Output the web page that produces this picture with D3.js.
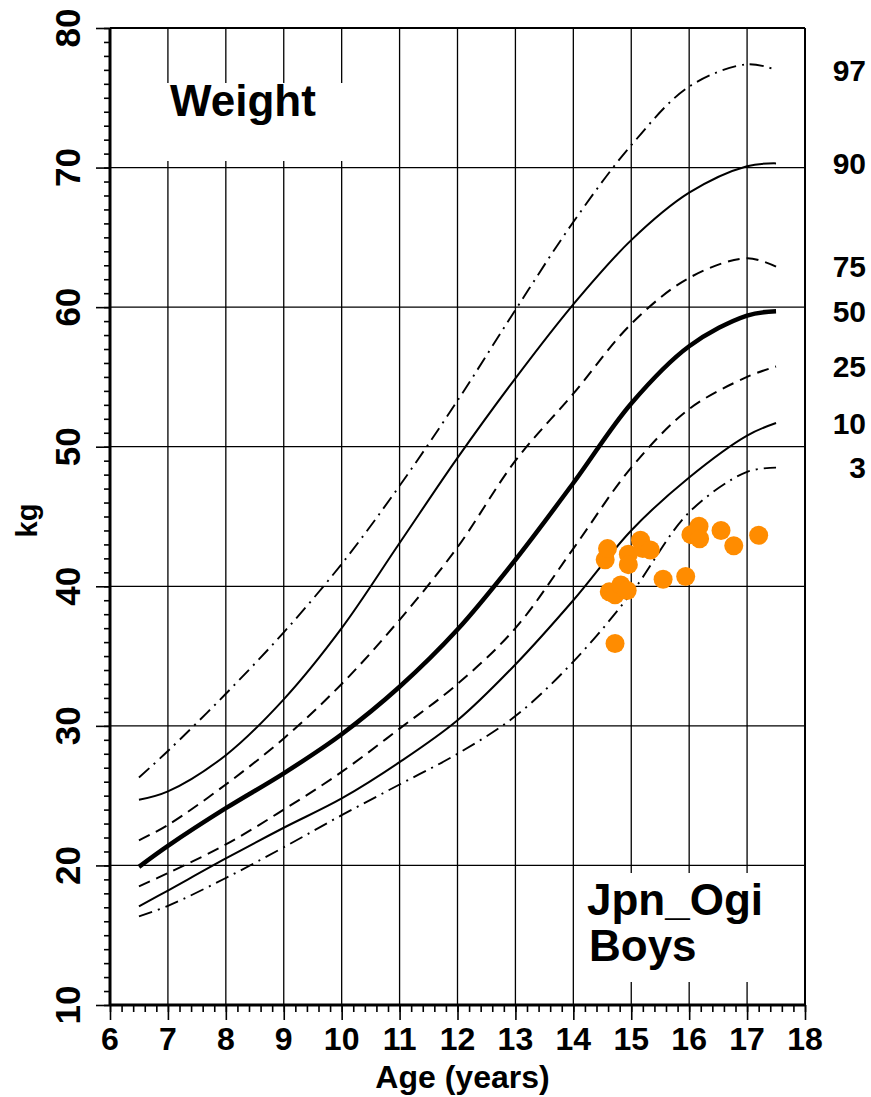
<!DOCTYPE html>
<html>
<head>
<meta charset="utf-8">
<script src="https://cdn.jsdelivr.net/npm/d3@7"></script>
<style>
  body { margin: 0; background: #fff; }
  text { font-family: "Liberation Sans", Arial, Helvetica, sans-serif; font-weight: bold; }
</style>
</head>
<body>
<svg id="chart" width="871" height="1097"></svg>
<script>
// reference curves (age in years, weight in kg)
const ages = [6.5, 7, 8, 9, 10, 11, 12, 13, 14, 15, 16, 17, 17.5];
const p97 = [26.3, 28.2, 32.3, 36.7, 41.6, 47.2, 53.3, 59.8, 66.1, 71.6, 75.8, 77.4, 77.0];
const p90 = [24.7, 25.3, 27.9, 31.9, 37.0, 43.1, 49.2, 54.9, 60.2, 64.8, 68.2, 70.1, 70.3];
const p75 = [21.8, 22.9, 25.8, 29.1, 33.0, 37.6, 42.8, 49.0, 53.8, 58.8, 62.1, 63.5, 62.9];
const p50 = [19.9, 21.4, 24.1, 26.6, 29.4, 32.8, 36.9, 41.9, 47.4, 53.1, 57.2, 59.4, 59.7];
const p25 = [18.5, 19.45, 21.5, 24.0, 26.7, 29.8, 33.0, 37.0, 42.7, 48.5, 52.7, 55.0, 55.75];
const p10 = [17.06, 18.2, 20.5, 22.7, 24.8, 27.4, 30.4, 34.4, 39.0, 44.0, 47.8, 50.8, 51.7];
const p3 = [16.35, 17.1, 19.1, 21.3, 23.6, 25.8, 28.0, 30.7, 34.6, 39.5, 45.3, 48.2, 48.5];

const centiles = ['97', '90', '75', '50', '25', '10', '3'];

// measured children
const obsAge = [14.55, 14.59, 14.62, 14.72, 14.82, 14.93, 14.72, 14.95, 14.95, 15.16,
                15.2, 15.33, 15.55, 15.94, 16.03, 16.17, 16.18, 16.55, 16.77, 17.2];
const obsKg = [41.9, 42.7, 39.6, 39.4, 40.1, 39.7, 35.9, 42.3, 41.55, 43.3,
               42.7, 42.6, 40.5, 40.7, 43.7, 44.3, 43.4, 44.0, 42.9, 43.65];

const xTicks = d3.range(6, 19, 1);
const yTicks = d3.range(10, 90, 10);

const svg = d3.select('#chart');
const pLeft = 110, pRight = 805, pTop = 28, pBottom = 1005;

const x = d3.scaleLinear().domain([6, 18]).range([pLeft, pRight]);
const y = d3.scaleLinear().domain([10, 80]).range([pBottom, pTop]);

// grid
const grid = svg.append('g').attr('stroke', '#000').attr('stroke-width', 1.3);
grid.selectAll('.vg').data(xTicks.filter(d => d > 6 && d < 18)).enter().append('line')
  .attr('x1', d => x(d)).attr('x2', d => x(d)).attr('y1', pTop).attr('y2', pBottom);
grid.selectAll('.hg').data(yTicks.filter(d => d > 10 && d < 80)).enter().append('line')
  .attr('x1', pLeft).attr('x2', pRight).attr('y1', d => y(d)).attr('y2', d => y(d));

// white legend boxes
svg.append('rect').attr('x', 140).attr('y', 83).attr('width', 235).attr('height', 78).attr('fill', '#fff');
svg.append('rect').attr('x', 580).attr('y', 873).attr('width', 222).attr('height', 109).attr('fill', '#fff');

svg.append('text').attr('x', 170).attr('y', 116).attr('font-size', 44).text('Weight');
svg.append('text').attr('x', 587).attr('y', 915).attr('font-size', 44).text('Jpn_Ogi');
svg.append('text').attr('x', 589).attr('y', 961).attr('font-size', 44).text('Boys');

// centile curves
const series = [p97, p90, p75, p50, p25, p10, p3];
const styles = [
  { w: 1.9, dash: '14,6,2,6' },
  { w: 2, dash: null },
  { w: 2, dash: '12,7' },
  { w: 4.5, dash: null },
  { w: 2, dash: '12,7' },
  { w: 2, dash: null },
  { w: 1.9, dash: '14,6,2,6' }
];

const line = d3.line()
  .x(d => x(d[0]))
  .y(d => y(d[1]))
  .curve(d3.curveCatmullRom.alpha(0.5));

series.forEach((vals, i) => {
  svg.append('path')
    .datum(ages.map((a, j) => [a, vals[j]]))
    .attr('d', line)
    .attr('fill', 'none')
    .attr('stroke', '#000')
    .attr('stroke-width', styles[i].w)
    .attr('stroke-dasharray', styles[i].dash);

  svg.append('text')
    .attr('x', 866)
    .attr('y', y(vals[vals.length - 1]))
    .attr('dy', '0.36em')
    .attr('text-anchor', 'end')
    .attr('font-size', 30)
    .text(centiles[i]);
});

// points
svg.append('g').selectAll('circle').data(obsAge).enter().append('circle')
  .attr('cx', d => x(d))
  .attr('cy', (d, i) => y(obsKg[i]))
  .attr('r', 9.5)
  .attr('fill', '#ff8c00');

// axes
const xAxis = svg.append('g').attr('transform', `translate(0,${pBottom})`);
xAxis.call(d3.axisBottom(x).tickValues(d3.range(6, 18.001, 0.2)).tickSize(7).tickFormat(''));
xAxis.append('g').call(d3.axisBottom(x).tickValues(xTicks).tickSize(15).tickFormat(''));
xAxis.selectAll('.domain').remove();
xAxis.selectAll('line').attr('stroke', '#000').attr('stroke-width', 1.6);

const yAxis = svg.append('g').attr('transform', `translate(${pLeft},0)`);
yAxis.call(d3.axisLeft(y).tickValues(d3.range(10, 80.001, 1)).tickSize(6).tickFormat(''));
yAxis.append('g').call(d3.axisLeft(y).tickValues(yTicks).tickSize(14).tickFormat(''));
yAxis.selectAll('.domain').remove();
yAxis.selectAll('line').attr('stroke', '#000').attr('stroke-width', 1.6);

// frame
svg.append('line').attr('x1', pLeft).attr('x2', pRight).attr('y1', pBottom).attr('y2', pBottom)
  .attr('stroke', '#000').attr('stroke-width', 3);
svg.append('line').attr('x1', pLeft).attr('x2', pLeft).attr('y1', pTop).attr('y2', pBottom)
  .attr('stroke', '#000').attr('stroke-width', 3);
svg.append('line').attr('x1', pLeft).attr('x2', pRight).attr('y1', pTop).attr('y2', pTop)
  .attr('stroke', '#000').attr('stroke-width', 2);
svg.append('line').attr('x1', pRight).attr('x2', pRight).attr('y1', pTop).attr('y2', pBottom)
  .attr('stroke', '#000').attr('stroke-width', 2);

// tick labels
svg.append('g').selectAll('text').data(xTicks).enter().append('text')
  .attr('x', d => x(d)).attr('y', 1050)
  .attr('text-anchor', 'middle').attr('font-size', 32)
  .text(d => d);

svg.append('g').selectAll('text').data(yTicks).enter().append('text')
  .attr('transform', d => `translate(80,${y(d)}) rotate(-90)`)
  .attr('text-anchor', 'middle').attr('font-size', 35)
  .text(d => d);

svg.append('text').attr('x', (pLeft + pRight) / 2 + 5).attr('y', 1088)
  .attr('text-anchor', 'middle').attr('font-size', 32).text('Age (years)');

svg.append('text').attr('transform', `translate(37,${(pTop + pBottom) / 2 + 4}) rotate(-90)`)
  .attr('text-anchor', 'middle').attr('font-size', 29).text('kg');
</script>
</body>
</html>
